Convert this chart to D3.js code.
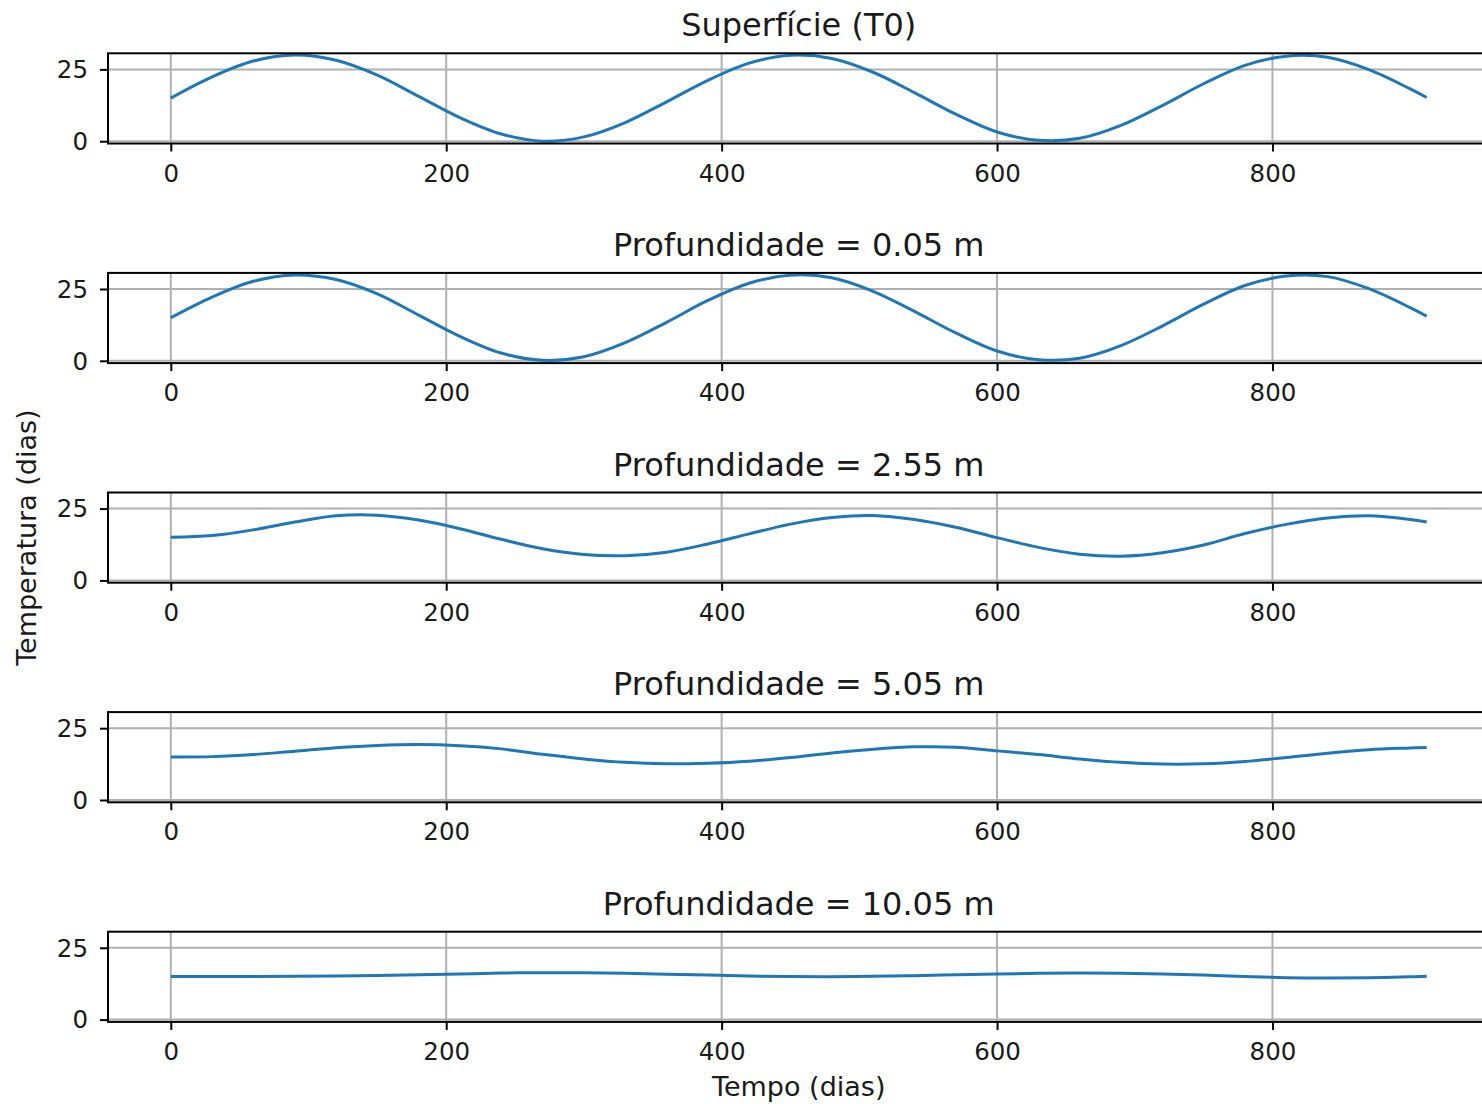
<!DOCTYPE html>
<html>
<head>
<meta charset="utf-8">
<script src="https://cdn.jsdelivr.net/npm/d3@7"></script>
<style>
  html, body { margin: 0; padding: 0; background: #fff; }
  svg { display: block; font-family: "DejaVu Sans", sans-serif; }
</style>
</head>
<body>
<svg id="chart" width="1482" height="1104"></svg>
<script>
// Time axis (days)
const days = [0, 30, 60, 90, 120, 150, 180, 210, 240, 270, 300, 330, 360, 390, 420, 450,
              480, 510, 540, 570, 600, 630, 660, 690, 720, 750, 780, 810, 840, 870, 900, 912];

// Panel titles
const titles = ["Superfície (T0)", "Profundidade = 0.05 m", "Profundidade = 2.55 m",
                "Profundidade = 5.05 m", "Profundidade = 10.05 m"];

// Temperature series, one per depth
const tSurface = [15.0, 22.4, 27.9, 30.0, 28.2, 23.0, 15.6, 8.2, 2.5, 0.0, 1.5, 6.5, 13.7, 21.2, 27.2, 29.9,
                  28.8, 24.0, 16.9, 9.4, 3.2, 0.3, 1.0, 5.5, 12.4, 20.0, 26.4, 29.6, 29.2, 24.9, 18.2, 15.2];
const tDepth005 = [15.0, 22.2, 27.7, 29.9, 28.3, 23.3, 15.9, 8.5, 2.7, 0.2, 1.4, 6.3, 13.4, 21.0, 27.0, 29.8,
                   28.9, 24.2, 17.2, 9.7, 3.4, 0.4, 0.9, 5.3, 12.1, 19.7, 26.2, 29.5, 29.3, 25.1, 18.5, 15.5];
const tDepth255 = [15.0, 15.6, 17.6, 20.3, 22.5, 22.7, 21.0, 18.0, 14.3, 11.0, 9.0, 8.6, 9.8, 12.7, 16.2, 19.6,
                   21.9, 22.6, 21.2, 18.5, 14.9, 11.5, 9.1, 8.4, 9.6, 12.3, 16.3, 19.5, 21.7, 22.5, 21.2, 20.3];
const tDepth505 = [15.0, 15.1, 15.8, 17.0, 18.2, 19.0, 19.3, 18.9, 17.8, 15.9, 14.3, 13.1, 12.6, 12.8, 13.5, 14.8,
                   16.4, 17.7, 18.5, 18.4, 17.1, 15.8, 14.3, 13.1, 12.5, 12.6, 13.4, 14.8, 16.3, 17.5, 18.1, 18.3];
const tDepth1005 = [15.0, 15.0, 15.0, 15.05, 15.15, 15.35, 15.6, 15.9, 16.2, 16.35, 16.3, 16.1, 15.8, 15.5, 15.2, 15.0,
                    14.95, 15.05, 15.3, 15.6, 15.9, 16.1, 16.2, 16.1, 15.9, 15.5, 15.0, 14.6, 14.5, 14.6, 14.9, 15.05];

const series = [tSurface, tDepth005, tDepth255, tDepth505, tDepth1005];

// Tick values
const xTicks = [0, 200, 400, 600, 800];
const yTicks = [0, 25];

// Layout
const svg = d3.select("#chart");
const axLeft = 108, axRight = 1489.5;
const panelTop0 = 53.3, panelStep = 219.6, panelH = 90.2;
const gridColor = "#b0b0b0";
const lineColor = "#1f77b4";
const textColor = "#1a1a1a";

const x = d3.scaleLinear().domain([-45.6, 957.6]).range([axLeft, axRight]);

series.forEach((vals, i) => {
  const top = panelTop0 + i * panelStep;
  const bottom = top + panelH;
  const y = d3.scaleLinear().domain([-0.8, 30.6]).range([bottom, top]);
  const g = svg.append("g");

  // grid
  g.append("g").selectAll("line").data(xTicks).join("line")
    .attr("x1", d => x(d)).attr("x2", d => x(d))
    .attr("y1", top).attr("y2", bottom)
    .attr("stroke", gridColor).attr("stroke-width", 2);
  g.append("g").selectAll("line").data(yTicks).join("line")
    .attr("x1", axLeft).attr("x2", axRight)
    .attr("y1", d => y(d)).attr("y2", d => y(d))
    .attr("stroke", gridColor).attr("stroke-width", 2);

  // temperature curve
  const line = d3.line()
    .x((d, k) => x(days[k]))
    .y(d => y(d))
    .curve(d3.curveCatmullRom.alpha(0.5));
  g.append("path").datum(vals)
    .attr("d", line)
    .attr("fill", "none")
    .attr("stroke", lineColor)
    .attr("stroke-width", 3)
    .attr("stroke-linejoin", "round")
    .attr("stroke-linecap", "butt");

  // axes
  const xAxis = d3.axisBottom(x).tickValues(xTicks).tickSize(8).tickPadding(8)
    .tickFormat(d3.format("d"));
  const gx = g.append("g").attr("transform", `translate(0,${bottom})`).call(xAxis);
  const yAxis = d3.axisLeft(y).tickValues(yTicks).tickSize(8).tickPadding(12)
    .tickFormat(d3.format("d"));
  const gy = g.append("g").attr("transform", `translate(${axLeft},0)`).call(yAxis);
  [gx, gy].forEach(a => {
    a.select(".domain").remove();
    a.selectAll(".tick line").attr("stroke", "#000").attr("stroke-width", 2);
    a.selectAll(".tick text").attr("fill", textColor).style("font-size", "24.5px")
      .style("font-family", "'DejaVu Sans', sans-serif");
  });
  gx.selectAll(".tick text").attr("dy", "0.9em");
  gy.selectAll(".tick text").attr("dy", "0.34em");

  // frame
  g.append("rect")
    .attr("x", axLeft).attr("y", top)
    .attr("width", axRight - axLeft).attr("height", panelH)
    .attr("fill", "none").attr("stroke", "#000").attr("stroke-width", 2);

  // title
  g.append("text")
    .attr("x", (axLeft + axRight) / 2).attr("y", top - 17)
    .attr("text-anchor", "middle")
    .attr("fill", textColor)
    .style("font-size", "32px")
    .text(titles[i]);
});

// axis labels
svg.append("text")
  .attr("x", (axLeft + axRight) / 2).attr("y", 1096)
  .attr("text-anchor", "middle").attr("fill", textColor)
  .style("font-size", "27px")
  .text("Tempo (dias)");

const yMid = (panelTop0 + panelTop0 + 4 * panelStep + panelH) / 2;
svg.append("text")
  .attr("transform", `translate(36,${yMid}) rotate(-90)`)
  .attr("text-anchor", "middle").attr("fill", textColor)
  .style("font-size", "27px")
  .text("Temperatura (dias)");
</script>
</body>
</html>
